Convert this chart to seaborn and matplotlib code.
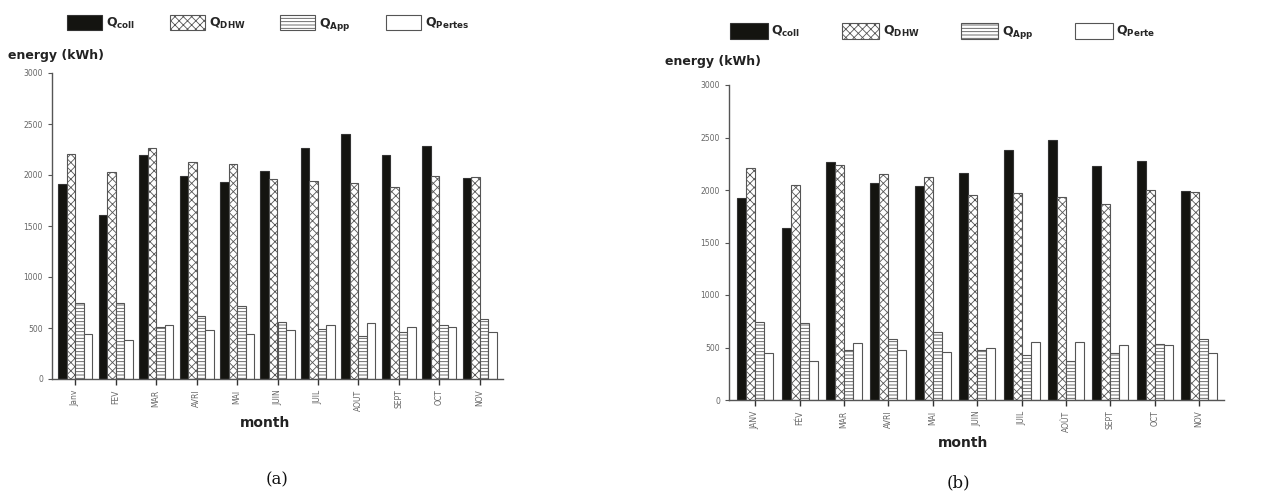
import pandas as pd
import seaborn as sns
import matplotlib.pyplot as plt
from matplotlib.patches import Patch

# --- data ---
months_a = ['Janv', 'FEV', 'MAR', 'AVRI', 'MAI', 'JUIN', 'JUIL', 'AOUT', 'SEPT', 'OCT', 'NOV']
months_b = ['JANV', 'FÉV', 'MAR', 'AVRI', 'MAI', 'JUIN', 'JUIL', 'AOÛT', 'SEPT', 'OCT', 'NOV']

series_a = ['Qcoll', 'QDHW', 'QApp', 'QPertes']
series_b = ['Qcoll', 'QDHW', 'QApp', 'QPerte']

labels_a = [r'$\mathbf{Q_{coll}}$', r'$\mathbf{Q_{DHW}}$', r'$\mathbf{Q_{App}}$', r'$\mathbf{Q_{Pertes}}$']
labels_b = [r'$\mathbf{Q_{coll}}$', r'$\mathbf{Q_{DHW}}$', r'$\mathbf{Q_{App}}$', r'$\mathbf{Q_{Perte}}$']

coll_a = [1910, 1610, 2200, 1990, 1930, 2040, 2260, 2400, 2200, 2280, 1970]
dhw_a = [2210, 2030, 2260, 2130, 2110, 1960, 1940, 1920, 1880, 1990, 1980]
app_a = [750, 750, 510, 620, 720, 560, 490, 420, 460, 530, 590]
pertes_a = [440, 380, 530, 480, 440, 480, 530, 550, 510, 510, 460]

coll_b = [1920, 1640, 2270, 2070, 2040, 2160, 2380, 2480, 2230, 2280, 1990]
dhw_b = [2210, 2050, 2240, 2150, 2120, 1950, 1970, 1930, 1870, 2000, 1980]
app_b = [740, 730, 480, 580, 650, 480, 430, 370, 450, 530, 580]
perte_b = [450, 370, 540, 480, 460, 500, 550, 550, 520, 520, 450]

yticks = [0, 500, 1000, 1500, 2000, 2500, 3000]

# bar looks: black, cross-hatch, horizontal lines, empty
styles = [
    dict(facecolor='#141410', edgecolor='#333333', hatch=None),
    dict(facecolor='white', edgecolor='#555555', hatch='xxxx'),
    dict(facecolor='white', edgecolor='#555555', hatch='-----'),
    dict(facecolor='white', edgecolor='#555555', hatch=None),
]


def long_table(months, names, columns):
    rows = []
    for name, vals in zip(names, columns):
        for m, v in zip(months, vals):
            rows.append({'month': m, 'serie': name, 'energy': v})
    return pd.DataFrame(rows)


def draw_panel(ax, df, months, names, width, xlim):
    sns.barplot(data=df, x='month', y='energy', hue='serie', order=months,
                hue_order=names, width=width, legend=False, ax=ax,
                errorbar=None, saturation=1)
    for cont, st in zip(ax.containers, styles):
        for bar in cont:
            bar.set_facecolor(st['facecolor'])
            bar.set_edgecolor(st['edgecolor'])
            bar.set_linewidth(0.8)
            if st['hatch']:
                bar.set_hatch(st['hatch'])
    ax.set_ylim(0, 3000)
    ax.set_xlim(*xlim)
    ax.set_yticks(yticks)
    ax.set_xlabel('')
    ax.set_ylabel('')
    sns.despine(ax=ax)
    for s in ['left', 'bottom']:
        ax.spines[s].set_color('#555555')
        ax.spines[s].set_linewidth(1.0)
    ax.tick_params(axis='y', left=True, labelsize=5.5, labelcolor='#666666',
                   color='#555555', length=3, width=0.8)
    ax.tick_params(axis='x', bottom=True, labelsize=5.5, labelcolor='#666666',
                   color='#333333', length=4, width=1.0, rotation=90)


plt.rcParams['hatch.linewidth'] = 0.6
sns.set_style('ticks')

fig = plt.figure(figsize=(12.63, 4.93), dpi=100)
W, H = 1263, 493

ax_a = fig.add_axes([52 / W, 1 - 379 / H, 451 / W, 306 / H])
ax_b = fig.add_axes([729 / W, 1 - 400 / H, 495 / W, 315 / H])

df_a = long_table(months_a, series_a, [coll_a, dhw_a, app_a, pertes_a])
df_b = long_table(months_b, series_b, [coll_b, dhw_b, app_b, perte_b])

draw_panel(ax_a, df_a, months_a, series_a, 0.84, (-0.57, 10.57))
draw_panel(ax_b, df_b, months_b, series_b, 0.81, (-0.59, 10.56))

handles = [Patch(facecolor=st['facecolor'], edgecolor=st['edgecolor'],
                 hatch=st['hatch'], linewidth=0.8) for st in styles]

fig.legend(handles, labels_a, loc='center left', bbox_to_anchor=(67 / W, 1 - 24 / H),
           ncol=4, frameon=False, fontsize=9, handlelength=2.8, handleheight=1.45,
           handletextpad=0.3, columnspacing=2.8, borderpad=0, borderaxespad=0)
fig.legend(handles, labels_b, loc='center left', bbox_to_anchor=(730 / W, 1 - 32 / H),
           ncol=4, frameon=False, fontsize=9, handlelength=3.0, handleheight=1.55,
           handletextpad=0.3, columnspacing=3.3, borderpad=0, borderaxespad=0)

fig.text(8 / W, 1 - 56 / H, 'energy (kWh)', fontsize=9, fontweight='bold',
         color='#222222', va='center', ha='left')
fig.text(665 / W, 1 - 62 / H, 'energy (kWh)', fontsize=9, fontweight='bold',
         color='#222222', va='center', ha='left')

fig.text(265 / W, 1 - 423 / H, 'month', fontsize=10, fontweight='bold',
         color='#222222', va='center', ha='center')
fig.text(963 / W, 1 - 443 / H, 'month', fontsize=10, fontweight='bold',
         color='#222222', va='center', ha='center')

fig.text(277 / W, 1 - 480 / H, '(a)', fontsize=12, family='DejaVu Serif',
         color='#111111', va='center', ha='center')
fig.text(958 / W, 1 - 483 / H, '(b)', fontsize=12, family='DejaVu Serif',
         color='#111111', va='center', ha='center')

fig.savefig('out.png', dpi=100)
